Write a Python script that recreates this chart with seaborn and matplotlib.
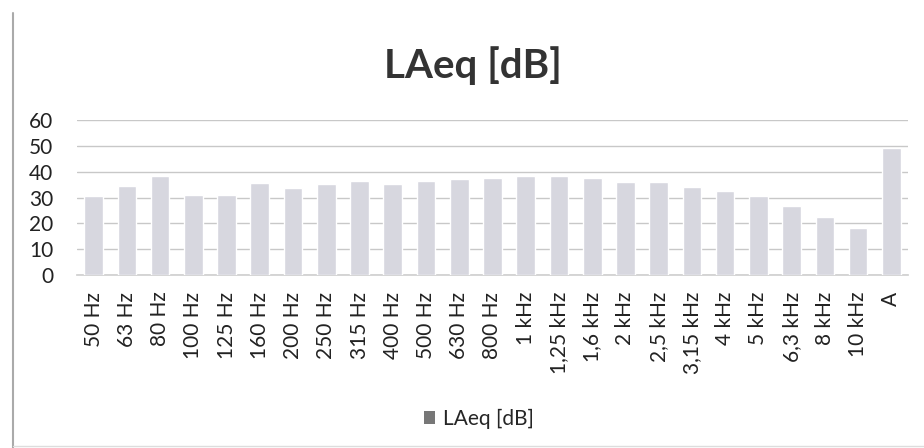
import matplotlib
matplotlib.use("Agg")
import matplotlib.pyplot as plt
import seaborn as sns
import pandas as pd
from matplotlib.lines import Line2D
from matplotlib.patches import Patch

# Data
bands = ["50 Hz", "63 Hz", "80 Hz", "100 Hz", "125 Hz", "160 Hz", "200 Hz",
         "250 Hz", "315 Hz", "400 Hz", "500 Hz", "630 Hz", "800 Hz", "1 kHz",
         "1,25 kHz", "1,6 kHz", "2 kHz", "2,5 kHz", "3,15 kHz", "4 kHz",
         "5 kHz", "6,3 kHz", "8 kHz", "10 kHz", "A"]
laeq = [30.7, 34.5, 38.4, 31.0, 31.0, 35.8, 33.6, 35.3, 36.5, 35.1, 36.5,
        37.2, 37.5, 38.4, 38.4, 37.5, 36.2, 36.2, 34.2, 32.7, 30.7, 26.7,
        22.6, 18.1, 49.3]
yticks = [0, 10, 20, 30, 40, 50, 60]

df = pd.DataFrame({"band": bands, "LAeq [dB]": laeq})

sns.set_theme(style="white")
plt.rcParams["font.family"] = ["Lato", "DejaVu Sans"]

bar_color = "#d7d7df"

fig = plt.figure(figsize=(9.24, 4.48), dpi=100)
ax = fig.add_axes([0.0833, 0.386, 0.8994, 0.346])

sns.barplot(data=df, x="band", y="LAeq [dB]", color=bar_color, width=0.56,
            saturation=1, ax=ax, zorder=3)

ax.set_ylim(0, 60)
ax.set_xlim(-0.5, len(bands) - 0.5)
ax.set_yticks(yticks)
ax.set_yticklabels([str(t) for t in yticks], fontsize=15, color="#222222")
ax.tick_params(axis="y", pad=17, length=0)
ax.tick_params(axis="x", length=0, pad=12)
ax.set_xticks(range(len(bands)))
ax.set_xticklabels(bands, rotation=90, fontsize=15, color="#222222")
ax.set_xlabel("")
ax.set_ylabel("")
ax.grid(axis="y", color="#c8c8c8", linewidth=1.0, zorder=0)
for s in ["top", "right", "left"]:
    ax.spines[s].set_visible(False)
ax.spines["bottom"].set_color("#d0d0d0")

fig.text(0.512, 0.853, "LAeq [dB]", ha="center", va="center",
         fontsize=29, fontweight="bold", color="#333333")

handle = Patch(facecolor="#777777", edgecolor="none")
fig.legend([handle], ["LAeq [dB]"], loc="center", bbox_to_anchor=(0.518, 0.065),
           frameon=False, handlelength=0.55, handleheight=0.55,
           handletextpad=0.35, prop={"family": "Lato", "size": 15})

# chart border pieces (left and bottom)
fig.add_artist(Line2D([0.014, 0.014], [0.0, 0.97], transform=fig.transFigure,
                      color="#aaaaaa", linewidth=1.5))
fig.add_artist(Line2D([0.014, 1.0], [0.004, 0.004], transform=fig.transFigure,
                      color="#dddddd", linewidth=1.0))

fig.savefig("out.png", dpi=100)
